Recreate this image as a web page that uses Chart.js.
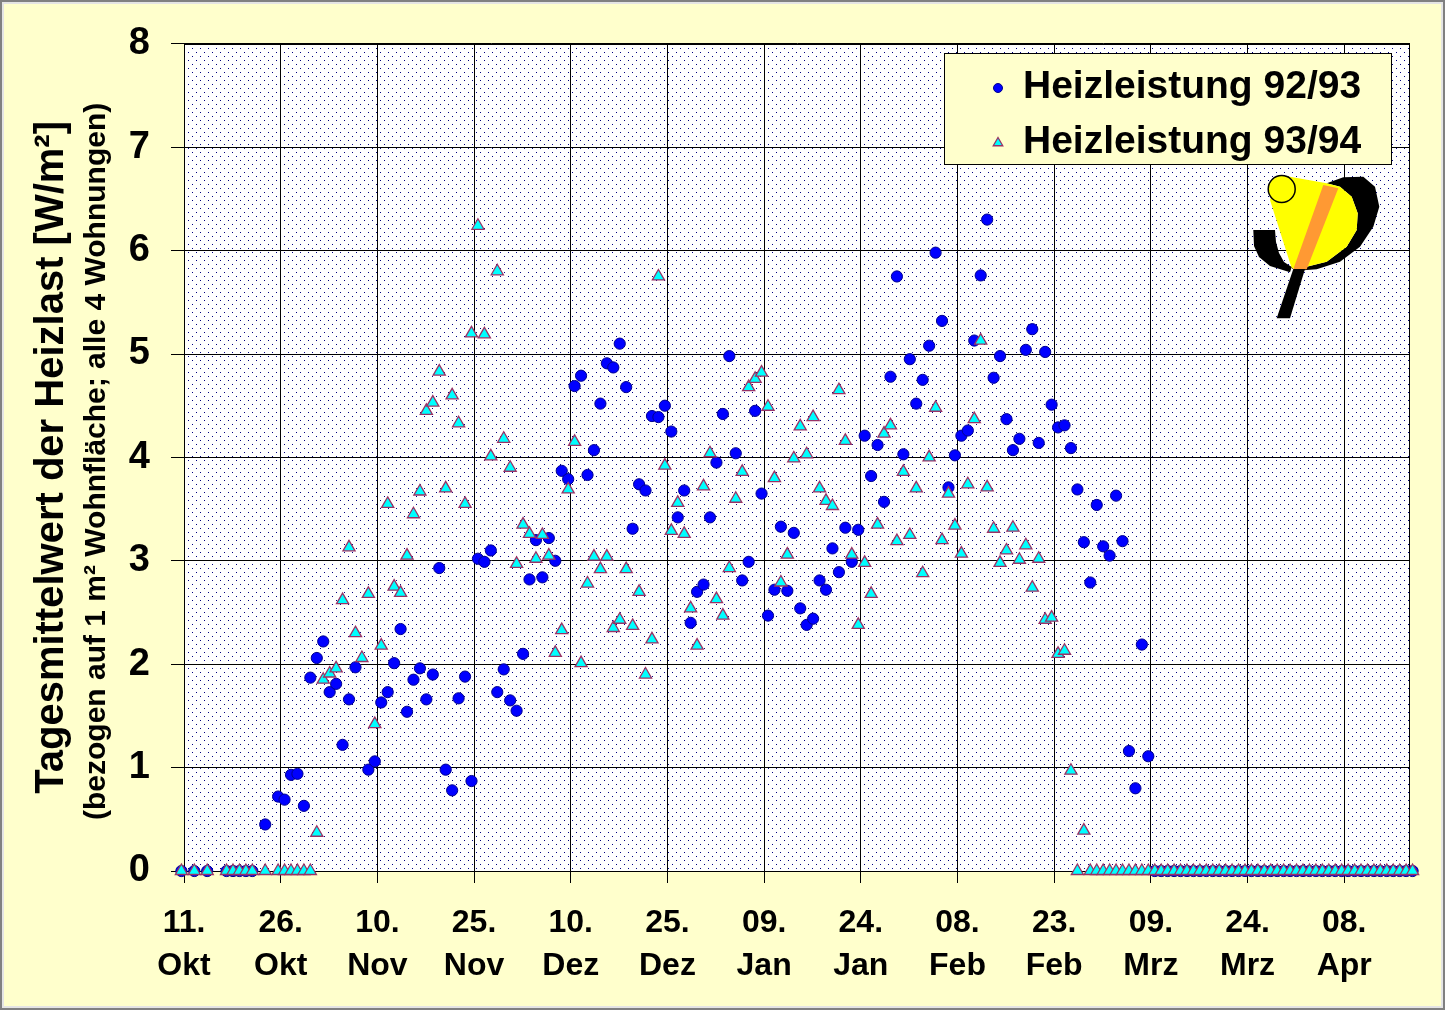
<!DOCTYPE html>
<html>
<head>
<meta charset="utf-8">
<script src="https://cdn.jsdelivr.net/npm/chart.js@4/dist/chart.umd.min.js"></script>
<style>
  html, body { margin: 0; padding: 0; background: #ffffcc; overflow: hidden; }
  canvas { display: block; }
</style>
</head>
<body>
<canvas id="heizChart" width="1445" height="1010"></canvas>
<script>
// Tagesmittelwerte, Index = Tag ab 11. Okt (null = kein Messwert)
var heiz9293 = [
    0, null, 0, null, 0, null, null, 0, 0, 0,
    0, 0, null, 0.45, null, 0.72, 0.69, 0.93, 0.94, 0.63,
    1.87, 2.06, 2.22, 1.73, 1.81, 1.22, 1.66, 1.97, null, 0.98,
    1.06, 1.63, 1.73, 2.01, 2.34, 1.54, 1.85, 1.96, 1.66, 1.90,
    2.93, 0.98, 0.78, 1.67, 1.88, 0.87, 3.02, 2.99, 3.10, 1.73,
    1.95, 1.65, 1.55, 2.10, 2.82, 3.20, 2.84, 3.22, 3.00, 3.87,
    3.79, 4.69, 4.79, 3.83, 4.07, 4.52, 4.91, 4.87, 5.10, 4.68,
    3.31, 3.74, 3.68, 4.40, 4.39, 4.50, 4.25, 3.42, 3.68, 2.40,
    2.70, 2.77, 3.42, 3.95, 4.42, 4.98, 4.04, 2.81, 2.99, 4.45,
    3.65, 2.47, 2.72, 3.33, 2.71, 3.27, 2.54, 2.38, 2.44, 2.81,
    2.72, 3.12, 2.89, 3.32, 2.99, 3.30, 4.21, 3.82, 4.12, 3.57,
    4.78, 5.75, 4.03, 4.95, 4.52, 4.75, 5.08, 5.98, 5.32, 3.71,
    4.02, 4.21, 4.26, 5.13, 5.76, 6.30, 4.77, 4.98, 4.37, 4.07,
    4.18, 5.04, 5.24, 4.14, 5.02, 4.51, 4.29, 4.31, 4.09, 3.69,
    3.18, 2.79, 3.54, 3.14, 3.05, 3.63, 3.19, 1.16, 0.80, 2.19,
    1.11, 0, 0, 0, 0, 0, 0, 0, 0, 0,
    0, 0, 0, 0, 0, 0, 0, 0, 0, 0,
    0, 0, 0, 0, 0, 0, 0, 0, 0, 0,
    0, 0, 0, 0, 0, 0, 0, 0, 0, 0,
    0, 0
];
var heiz9394 = [
    0, null, 0, null, 0, null, null, 0, 0, 0,
    0, 0, null, 0, null, 0, 0, 0, 0, 0,
    0, 0.37, 1.85, 1.91, 1.96, 2.62, 3.13, 2.30, 2.06, 2.68,
    1.42, 2.18, 3.55, 2.75, 2.69, 3.05, 3.45, 3.67, 4.45, 4.53,
    4.83, 3.70, 4.60, 4.33, 3.55, 5.20, 6.24, 5.19, 4.01, 5.80,
    4.18, 3.90, 2.97, 3.35, 3.26, 3.02, 3.25, 3.05, 2.11, 2.33,
    3.69, 4.15, 2.01, 2.78, 3.04, 2.92, 3.04, 2.35, 2.43, 2.92,
    2.37, 2.70, 1.90, 2.24, 5.75, 3.92, 3.29, 3.56, 3.26, 2.54,
    2.18, 3.72, 4.04, 2.63, 2.47, 2.93, 3.60, 3.86, 4.68, 4.76,
    4.82, 4.49, 3.80, 2.79, 3.06, 3.99, 4.30, 4.03, 4.39, 3.70,
    3.58, 3.53, 4.65, 4.16, 3.06, 2.38, 2.98, 2.68, 3.35, 4.23,
    4.31, 3.19, 3.86, 3.25, 3.70, 2.88, 4.00, 4.48, 3.20, 3.65,
    3.34, 3.07, 3.74, 4.37, 5.13, 3.71, 3.31, 2.98, 3.10, 3.32,
    3.01, 3.15, 2.74, 3.02, 2.43, 2.45, 2.10, 2.13, 0.97, 0,
    0.39, 0, 0, 0, 0, 0, 0, 0, 0, 0,
    0, 0, 0, 0, 0, 0, 0, 0, 0, 0,
    0, 0, 0, 0, 0, 0, 0, 0, 0, 0,
    0, 0, 0, 0, 0, 0, 0, 0, 0, 0,
    0, 0, 0, 0, 0, 0, 0, 0, 0, 0,
    0, 0
];
var tickDays = [0.4, 15.4, 30.4, 45.4, 60.4, 75.4, 90.4, 105.4, 120.4, 135.4, 150.4, 165.4, 180.4];
var tickLabels = [
    ['11.', 'Okt'], ['26.', 'Okt'], ['10.', 'Nov'], ['25.', 'Nov'], ['10.', 'Dez'], ['25.', 'Dez'],
    ['09.', 'Jan'], ['24.', 'Jan'], ['08.', 'Feb'], ['23.', 'Feb'], ['09.', 'Mrz'], ['24.', 'Mrz'], ['08.', 'Apr']
];
var seriesNames = ['Heizleistung 92/93', 'Heizleistung 93/94'];
var yTitle = 'Tagesmittelwert der Heizlast [W/m²]';
var ySubTitle = '(bezogen auf 1 m² Wohnfläche; alle 4 Wohnungen)';

var FONT = '"Liberation Sans", Arial, Helvetica, sans-serif';

function toPoints(values) {
    var pts = [];
    values.forEach(function (v, i) {
        if (v !== null) pts.push({ x: i, y: v });
    });
    return pts;
}

// fein gepunkteter Hintergrund der Zeichenfläche
function makeDotPattern(ctx) {
    var pc = document.createElement('canvas');
    pc.width = 8; pc.height = 8;
    var p = pc.getContext('2d');
    p.fillStyle = '#ffffff';
    p.fillRect(0, 0, 8, 8);
    p.fillStyle = '#000080';
    p.fillRect(0, 0, 1, 1);
    p.fillRect(4, 4, 1, 1);
    return ctx.createPattern(pc, 'repeat');
}

function poly(ctx, pts, color) {
    ctx.fillStyle = color;
    ctx.beginPath();
    ctx.moveTo(pts[0][0], pts[0][1]);
    for (var i = 1; i < pts.length; i++) ctx.lineTo(pts[i][0], pts[i][1]);
    ctx.closePath();
    ctx.fill();
}

function drawLogo(ctx) {
    ctx.save();
    // schwarze Sichel
    poly(ctx, [[1326.7, 183.3], [1343.3, 177.3], [1363.3, 176.7], [1375, 186.7], [1379.3, 206.7], [1373.3, 226.7],
        [1360, 246.7], [1340, 261.7], [1316.7, 269.3], [1296.7, 270.7],
        [1296.7, 269.3], [1326.7, 261.7], [1346.7, 246.7], [1356.7, 230], [1357.7, 213.3], [1351.7, 196.7], [1340, 186.7]], '#000');
    // gelber Lichtkegel
    poly(ctx, [[1280, 175], [1326.7, 183.3], [1340, 186.7], [1351.7, 196.7], [1357.7, 213.3], [1356.7, 230],
        [1346.7, 246.7], [1326.7, 261.7], [1296.7, 269.3], [1291.7, 268.3], [1270, 200]], '#ffff00');
    // oranger Streifen
    poly(ctx, [[1323.3, 185], [1338.3, 188.3], [1306.7, 269.3], [1293.3, 269.3]], '#ff9933');
    // Haken links und Stiel
    poly(ctx, [[1253.3, 230], [1254, 246], [1259, 257], [1270, 266], [1290, 272.3], [1291.7, 267],
        [1284, 262], [1279, 253], [1276, 242], [1275, 230]], '#000');
    poly(ctx, [[1293.3, 269], [1305, 269], [1290, 318.3], [1276.7, 318.3]], '#000');
    // kleiner Kreis
    ctx.beginPath();
    ctx.arc(1281.7, 189, 13.5, 0, Math.PI * 2);
    ctx.fillStyle = '#ffff00';
    ctx.fill();
    ctx.lineWidth = 1.5;
    ctx.strokeStyle = '#000';
    ctx.stroke();
    ctx.restore();
}

var backgroundPlugin = {
    id: 'background',
    beforeDraw: function (chart) {
        var ctx = chart.ctx;
        var a = chart.chartArea;
        ctx.save();
        ctx.fillStyle = '#ffffcc';
        ctx.fillRect(0, 0, chart.width, chart.height);
        ctx.lineWidth = 2;
        ctx.strokeStyle = '#808080';
        ctx.strokeRect(1, 1, chart.width - 2, chart.height - 2);
        ctx.strokeStyle = '#e4e4e4';
        ctx.strokeRect(3, 3, chart.width - 6, chart.height - 6);
        ctx.fillStyle = makeDotPattern(ctx);
        ctx.fillRect(a.left, a.top, a.right - a.left, a.bottom - a.top);
        ctx.restore();
    },
    beforeDatasetsDraw: function (chart) {
        var ctx = chart.ctx;
        var a = chart.chartArea;
        ctx.save();
        ctx.lineWidth = 1;
        ctx.strokeStyle = '#000';
        ctx.strokeRect(Math.round(a.left) + 0.5, Math.round(a.top) + 0.5,
            Math.round(a.right - a.left) - 1, Math.round(a.bottom - a.top));
        ctx.restore();
    }
};

var decorPlugin = {
    id: 'decor',
    afterDraw: function (chart) {
        var ctx = chart.ctx;
        var a = chart.chartArea;
        var midY = (a.top + a.bottom) / 2;

        // Achsentitel (gedreht)
        ctx.save();
        ctx.fillStyle = '#000';
        ctx.textAlign = 'center';
        ctx.textBaseline = 'alphabetic';
        ctx.translate(63, midY);
        ctx.rotate(-Math.PI / 2);
        ctx.font = 'bold 40px ' + FONT;
        ctx.fillText(yTitle, 0, 0);
        ctx.restore();

        ctx.save();
        ctx.fillStyle = '#000';
        ctx.textAlign = 'center';
        ctx.translate(105, midY + 4);
        ctx.rotate(-Math.PI / 2);
        ctx.font = 'bold 30px ' + FONT;
        ctx.fillText(ySubTitle, 0, 0);
        ctx.restore();

        // Legende
        ctx.save();
        ctx.fillStyle = '#ffffcc';
        ctx.fillRect(944, 53, 448, 112);
        ctx.lineWidth = 1;
        ctx.strokeStyle = '#000';
        ctx.strokeRect(944.5, 53.5, 447, 111);
        var rowY = [88, 143];
        var baseY = [98, 153];
        for (var i = 0; i < 2; i++) {
            var ds = chart.data.datasets[i];
            ctx.fillStyle = ds.backgroundColor;
            ctx.strokeStyle = ds.borderColor;
            ctx.lineWidth = ds.borderWidth;
            Chart.helpers.drawPoint(ctx, { pointStyle: ds.pointStyle, radius: i === 0 ? 4.5 : 5.5, borderWidth: ds.borderWidth }, 998, rowY[i]);
            ctx.fillStyle = '#000';
            ctx.font = 'bold 39px ' + FONT;
            ctx.textAlign = 'left';
            ctx.textBaseline = 'alphabetic';
            ctx.fillText(seriesNames[i], 1023, baseY[i]);
        }
        ctx.restore();

        drawLogo(ctx);
    }
};

Chart.defaults.font.family = FONT;
Chart.defaults.color = '#000';

var chartCtx = document.getElementById('heizChart');
new Chart(chartCtx, {
    type: 'scatter',
    data: {
        datasets: [
            {
                label: seriesNames[0],
                data: toPoints(heiz9293),
                pointStyle: 'circle',
                pointRadius: 5.6,
                pointHoverRadius: 5.6,
                backgroundColor: '#0000ff',
                borderColor: '#000090',
                borderWidth: 1,
                clip: false,
                order: 1
            },
            {
                label: seriesNames[1],
                data: toPoints(heiz9394),
                pointStyle: 'triangle',
                pointRadius: 7,
                pointHoverRadius: 7,
                backgroundColor: '#00ffff',
                borderColor: '#993366',
                borderWidth: 1.3,
                clip: false,
                order: 0
            }
        ]
    },
    options: {
        responsive: false,
        animation: false,
        devicePixelRatio: 1,
        layout: { padding: { left: 0, top: 38, right: 35, bottom: 0 } },
        plugins: {
            legend: { display: false },
            tooltip: { enabled: false }
        },
        scales: {
            x: {
                type: 'linear',
                min: 0.4,
                max: 190.6,
                afterBuildTicks: function (scale) {
                    scale.ticks = tickDays.map(function (d) { return { value: d }; });
                },
                afterFit: function (scale) { scale.height = 139; },
                grid: { color: '#000', lineWidth: 1, tickLength: 12, drawTicks: true },
                border: { color: '#000', width: 1 },
                ticks: {
                    autoSkip: false,
                    maxRotation: 0,
                    padding: 19,
                    font: { size: 32, weight: 'bold', lineHeight: 1.33 },
                    color: '#000',
                    callback: function (value) {
                        var idx = tickDays.indexOf(value);
                        return idx >= 0 ? tickLabels[idx] : '';
                    }
                }
            },
            y: {
                min: 0,
                max: 8,
                afterFit: function (scale) { scale.width = 184; },
                grid: { color: '#000', lineWidth: 1, tickLength: 13, drawTicks: true },
                border: { color: '#000', width: 1 },
                ticks: {
                    stepSize: 1,
                    padding: 21,
                    font: { size: 38, weight: 'bold' },
                    color: '#000'
                }
            }
        }
    },
    plugins: [backgroundPlugin, decorPlugin]
});
</script>
</body>
</html>
